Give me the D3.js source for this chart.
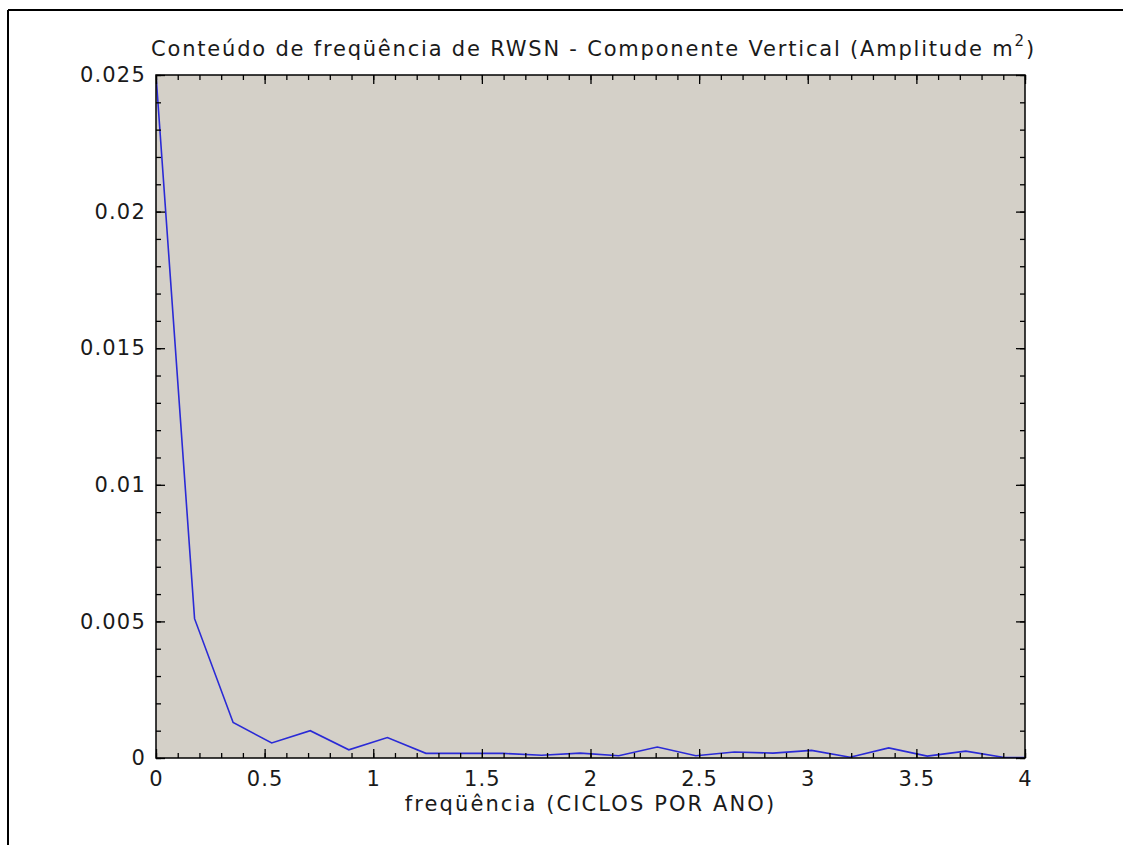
<!DOCTYPE html>
<html>
<head>
<meta charset="utf-8">
<script src="https://cdn.jsdelivr.net/npm/d3@7"></script>
<style>
  html, body { margin: 0; padding: 0; background: #ffffff; }
  svg { display: block; }
  text { font-family: "DejaVu Sans", sans-serif; fill: #1a1a1a; }
</style>
</head>
<body>
<svg id="chart" width="1123" height="845"></svg>
<script>
// ---- data ----
const freq = [0, 0.1775, 0.355, 0.5325, 0.71, 0.8875, 1.065, 1.2425, 1.42, 1.5975,
              1.775, 1.9525, 2.13, 2.3075, 2.485, 2.6625, 2.84, 3.0175, 3.195, 3.3725,
              3.55, 3.7275, 3.905, 4.0825];
const amplitude = [0.025, 0.0051, 0.0013, 0.00055, 0.001, 0.0003, 0.00075, 0.00017, 0.00017, 0.00017,
                   0.0001, 0.00018, 0.00008, 0.0004, 0.00008, 0.00022, 0.00018, 0.00028, 0.00003, 0.00037,
                   0.00007, 0.00025, 0.00002, 0.00002];
const xTicks = [0, 0.5, 1, 1.5, 2, 2.5, 3, 3.5, 4];
const xTickLabels = ["0", "0.5", "1", "1.5", "2", "2.5", "3", "3.5", "4"];
const yTicks = [0, 0.005, 0.01, 0.015, 0.02, 0.025];
const yTickLabels = ["0", "0.005", "0.01", "0.015", "0.02", "0.025"];
const titleText = "Conteúdo de freqüência de RWSN - Componente Vertical (Amplitude m";
const titleSup = "2";
const xLabel = "freqüência (CICLOS POR ANO)";

// ---- layout ----
const svg = d3.select("#chart");
const L = 156, R = 1025, T = 75, B = 758;

const x = d3.scaleLinear().domain([0, 4]).range([L, R]);
const y = d3.scaleLinear().domain([0, 0.025]).range([B, T]);

// outer frame (left + top edges)
svg.append("line").attr("x1", 8).attr("y1", 10).attr("x2", 8).attr("y2", 845)
  .attr("stroke", "#000").attr("stroke-width", 2);
svg.append("line").attr("x1", 8).attr("y1", 10).attr("x2", 1123).attr("y2", 10)
  .attr("stroke", "#000").attr("stroke-width", 2);

// plot background
svg.append("rect").attr("x", L).attr("y", T).attr("width", R - L).attr("height", B - T)
  .attr("fill", "#d4d0c8");

svg.append("defs").append("clipPath").attr("id", "clip")
  .append("rect").attr("x", L).attr("y", T).attr("width", R - L).attr("height", B - T);

// data line
const pts = freq.map((f, i) => [f, amplitude[i]]);
svg.append("path")
  .datum(pts)
  .attr("clip-path", "url(#clip)")
  .attr("fill", "none")
  .attr("stroke", "#2a2ad6")
  .attr("stroke-width", 1.6)
  .attr("d", d3.line().x(d => x(d[0])).y(d => y(d[1])));

// minor ticks
const xMinor = d3.range(0, 41).map(i => i / 10);
const yMinor = d3.range(0, 26).map(i => i / 1000);

function styleAxis(g) {
  g.selectAll("path.domain").remove();
  g.selectAll(".tick line").attr("stroke", "#000").attr("stroke-width", 1.3);
  g.selectAll(".tick text").style("font-family", "'DejaVu Sans', sans-serif")
    .style("font-size", "21px").style("letter-spacing", "1.2px").attr("fill", "#1a1a1a");
}

// bottom
svg.append("g").attr("transform", `translate(0,${B})`)
  .call(d3.axisBottom(x).tickValues(xMinor).tickSize(-5).tickFormat("")).call(styleAxis);
svg.append("g").attr("transform", `translate(0,${B})`)
  .call(d3.axisBottom(x).tickValues(xTicks).tickSize(-9).tickPadding(13)
    .tickFormat((d, i) => xTickLabels[i])).call(styleAxis);
// top
svg.append("g").attr("transform", `translate(0,${T})`)
  .call(d3.axisTop(x).tickValues(xMinor).tickSize(-5).tickFormat("")).call(styleAxis);
svg.append("g").attr("transform", `translate(0,${T})`)
  .call(d3.axisTop(x).tickValues(xTicks).tickSize(-9).tickFormat("")).call(styleAxis);
// left
svg.append("g").attr("transform", `translate(${L},0)`)
  .call(d3.axisLeft(y).tickValues(yMinor).tickSize(-5).tickFormat("")).call(styleAxis);
svg.append("g").attr("transform", `translate(${L},0)`)
  .call(d3.axisLeft(y).tickValues(yTicks).tickSize(-9).tickPadding(10)
    .tickFormat((d, i) => yTickLabels[i])).call(styleAxis);
// right
svg.append("g").attr("transform", `translate(${R},0)`)
  .call(d3.axisRight(y).tickValues(yMinor).tickSize(-5).tickFormat("")).call(styleAxis);
svg.append("g").attr("transform", `translate(${R},0)`)
  .call(d3.axisRight(y).tickValues(yTicks).tickSize(-9).tickFormat("")).call(styleAxis);

// plot frame
svg.append("rect").attr("x", L).attr("y", T).attr("width", R - L).attr("height", B - T)
  .attr("fill", "none").attr("stroke", "#000").attr("stroke-width", 1.5);

// title
const title = svg.append("text")
  .attr("x", (L + R) / 2 + 3).attr("y", 56)
  .attr("text-anchor", "middle")
  .style("font-size", "21px")
  .style("letter-spacing", "1.8px");
title.append("tspan").text(titleText);
title.append("tspan").attr("dy", -10).style("font-size", "15px").text(titleSup);
title.append("tspan").attr("dy", 10).text(")");

// x label
svg.append("text")
  .attr("x", (L + R) / 2).attr("y", 811)
  .attr("text-anchor", "middle")
  .style("font-size", "21px")
  .style("letter-spacing", "2.1px")
  .text(xLabel);
</script>
</body>
</html>
